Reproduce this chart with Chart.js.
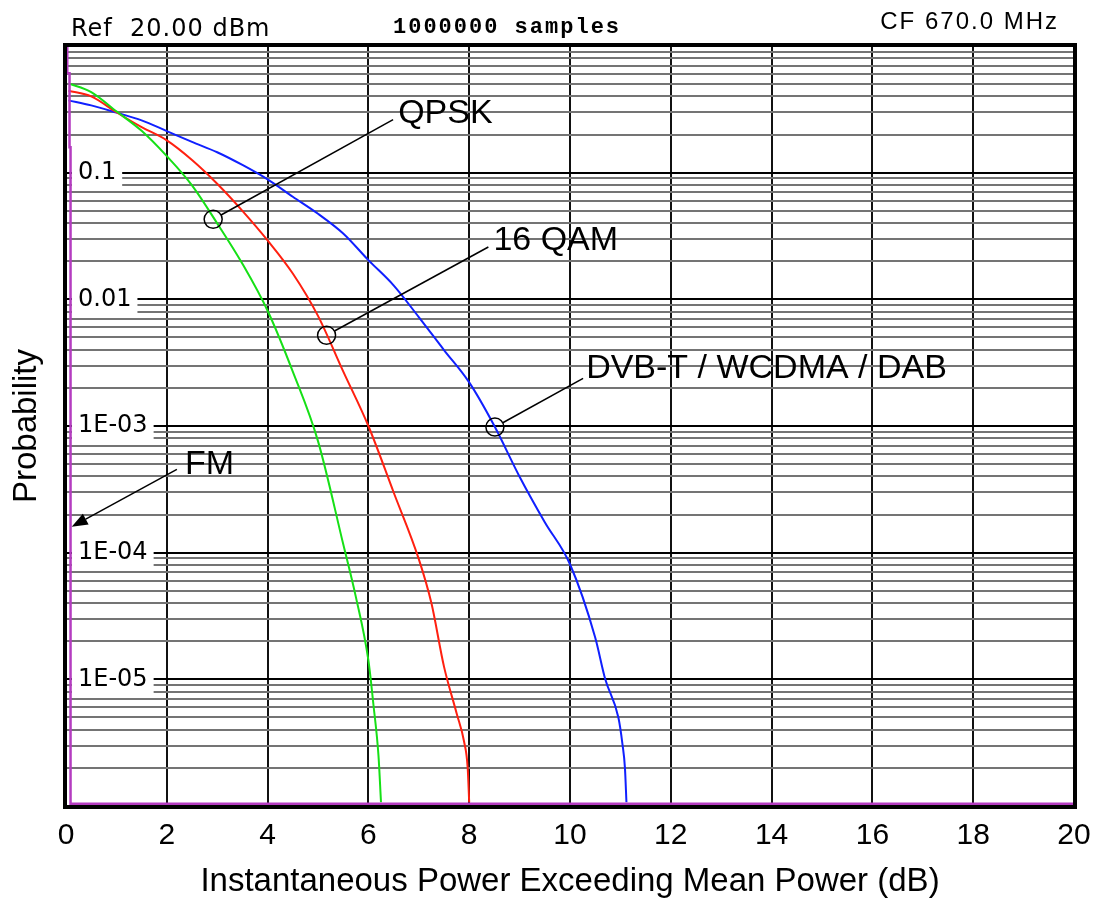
<!DOCTYPE html>
<html lang="en">
  <head>
    <meta charset="UTF-8" />
    <meta name="viewport" content="width=device-width, initial-scale=1.0" />
    <title>CCDF</title>
    <script src="https://cdn.jsdelivr.net/npm/chart.js"></script>
    <style>
      body { margin: 0; background: #fff; }
    </style>
  </head>
  <body>
    <div style="width: 1097px; height: 902px; position: relative">
      <canvas id="myChart"></canvas>
    </div>
    <script>
      // CCDF traces: power above mean (dB) -> probability
      const qpskDb = [0.05, 0.5, 1.0, 1.5, 2.0, 2.5, 3.0, 3.5, 4.0, 4.5, 5.0, 5.5, 5.75, 6.0, 6.1, 6.2, 6.25];
      const qpskProb = [0.507, 0.433, 0.305, 0.214, 0.135, 0.0794, 0.0398, 0.0191, 0.00813, 0.00269, 7.6e-4, 1.17e-4, 4.5e-5, 1.41e-5, 6.3e-6, 2.5e-6, 1.07e-6];

      const qamDb = [0.05, 0.5, 1.0, 1.5, 2.0, 2.5, 3.0, 3.5, 4.0, 4.5, 5.0, 5.5, 6.0, 6.5, 7.0, 7.25, 7.5, 7.75, 7.9, 7.97, 8.0];
      const qamProb = [0.444, 0.40, 0.30, 0.229, 0.18, 0.126, 0.0818, 0.050, 0.0292, 0.016, 0.0074, 0.0027, 0.001, 3.0e-4, 8.9e-5, 4.0e-5, 1.26e-5, 5.4e-6, 3.2e-6, 2.0e-6, 1.07e-6];

      const dvbDb = [0.05, 0.5, 1.0, 1.5, 2.0, 2.5, 3.0, 3.5, 4.0, 4.5, 5.0, 5.5, 6.0, 6.5, 7.0, 7.5, 8.0, 8.5, 9.0, 9.5, 10.0, 10.5, 10.7, 10.96, 11.04, 11.09, 11.12];
      const dvbProb = [0.372, 0.34, 0.298, 0.259, 0.213, 0.175, 0.145, 0.115, 0.0885, 0.0646, 0.0474, 0.0331, 0.0204, 0.0129, 0.00724, 0.00398, 0.00221, 0.001, 3.98e-4, 1.74e-4, 8.1e-5, 2.14e-5, 1.0e-5, 5.0e-6, 3.1e-6, 2.0e-6, 1.07e-6];

      // FM is constant envelope: drops straight down at 0 dB, then sits on the floor
      const fmDb = [0.025, 0.025, 0.07, 0.07, 0.09, 0.09, 20];
      const fmProb = [1.0, 0.61, 0.61, 0.159, 0.159, 1.04e-6, 1.04e-6];

      // axis ticks
      const xTicks = [0, 2, 4, 6, 8, 10, 12, 14, 16, 18, 20];
      const yLabelValues = [0.1, 0.01, 1e-3, 1e-4, 1e-5];
      const yLabels = ["0.1", "0.01", "1E-03", "1E-04", "1E-05"];

      // callouts: circle on a trace (x, y), leader end (lx, ly), text anchor (tx, ty)
      const callouts = [
        { text: "QPSK", x: 2.92, y: 0.0428, lx: 6.49, ly: 0.262, tx: 6.59, ty: 0.245 },
        { text: "16 QAM", x: 5.17, y: 0.0052, lx: 8.38, ly: 0.0259, tx: 8.48, ty: 0.0244 },
        { text: "DVB-T / WCDMA / DAB", x: 8.51, y: 9.8e-4, lx: 10.26, ly: 0.00238, tx: 10.32, ty: 0.00239 },
      ];
      const fmArrow = { text: "FM", fromX: 2.2, fromY: 4.55e-4, toX: 0.113, toY: 1.6e-4, tx: 2.36, ty: 4.21e-4 };

      const SANS = "'Liberation Sans', Arial, sans-serif";

      function toPoints(xs, ys) {
        return xs.map((x, i) => ({ x: x, y: ys[i] }));
      }

      // log grid: 1..9 per decade
      const gridValues = [];
      for (let e = -6; e < 0; e++) {
        for (let m = 1; m <= 9; m++) gridValues.push(m * Math.pow(10, e));
      }
      gridValues.push(1);

      function isDecade(v) {
        const l = Math.log10(v);
        return Math.abs(l - Math.round(l)) < 1e-6;
      }
      function labelFor(v) {
        const i = yLabelValues.findIndex((d) => Math.abs(Math.log10(d) - Math.log10(v)) < 1e-6);
        return i >= 0 ? yLabels[i] : "";
      }

      const calloutPlugin = {
        id: "callouts",
        afterDatasetsDraw(chart) {
          const ctx = chart.ctx;
          const xs = chart.scales.x;
          const ys = chart.scales.y;
          const r = 9;
          ctx.save();
          ctx.strokeStyle = "#000";
          ctx.fillStyle = "#000";
          ctx.lineWidth = 1.5;
          ctx.font = "34px " + SANS;
          ctx.textBaseline = "alphabetic";
          ctx.textAlign = "left";
          callouts.forEach((c) => {
            const cx = xs.getPixelForValue(c.x);
            const cy = ys.getPixelForValue(c.y);
            const lx = xs.getPixelForValue(c.lx);
            const ly = ys.getPixelForValue(c.ly);
            const a = Math.atan2(ly - cy, lx - cx);
            ctx.beginPath();
            ctx.arc(cx, cy, r, 0, Math.PI * 2);
            ctx.stroke();
            ctx.beginPath();
            ctx.moveTo(cx + r * Math.cos(a), cy + r * Math.sin(a));
            ctx.lineTo(lx, ly);
            ctx.stroke();
            ctx.fillText(c.text, xs.getPixelForValue(c.tx), ys.getPixelForValue(c.ty));
          });

          // FM arrow
          const fx = xs.getPixelForValue(fmArrow.fromX);
          const fy = ys.getPixelForValue(fmArrow.fromY);
          const px = xs.getPixelForValue(fmArrow.toX);
          const py = ys.getPixelForValue(fmArrow.toY);
          const a = Math.atan2(py - fy, px - fx);
          const hl = 16, hw = 6;
          const bx = px - hl * Math.cos(a), by = py - hl * Math.sin(a);
          ctx.beginPath();
          ctx.moveTo(fx, fy);
          ctx.lineTo(bx, by);
          ctx.stroke();
          ctx.beginPath();
          ctx.moveTo(px, py);
          ctx.lineTo(bx + hw * Math.sin(a), by - hw * Math.cos(a));
          ctx.lineTo(bx - hw * Math.sin(a), by + hw * Math.cos(a));
          ctx.closePath();
          ctx.fill();
          ctx.fillText(fmArrow.text, xs.getPixelForValue(fmArrow.tx), ys.getPixelForValue(fmArrow.ty));

          // heavy frame round the plot
          const area = chart.chartArea;
          ctx.lineWidth = 4;
          ctx.strokeRect(area.left - 1, area.top - 1, area.right - area.left + 2, area.bottom - area.top + 2);
          ctx.restore();
        },
      };

      const headerPlugin = {
        id: "header",
        afterDraw(chart) {
          const ctx = chart.ctx;
          ctx.save();
          ctx.fillStyle = "#000";
          ctx.textBaseline = "alphabetic";
          ctx.textAlign = "left";
          ctx.font = "24px 'DejaVu Sans', sans-serif";
          ctx.letterSpacing = "1px";
          ctx.fillText("Ref  20.00 dBm", 71, 36);
          ctx.font = "bold 22px 'Liberation Mono', 'Courier New', monospace";
          ctx.letterSpacing = "2px";
          ctx.fillText("1000000 samples", 393, 33);
          ctx.font = "24px " + SANS;
          ctx.letterSpacing = "2px";
          ctx.textAlign = "right";
          ctx.fillText("CF 670.0 MHz", 1059, 29);
          ctx.restore();
        },
      };

      function drawChart(tag) {
        const ctx = document.getElementById(tag);
        const line = (pts, color, width) => ({
          data: pts,
          borderColor: color,
          borderWidth: width,
          pointRadius: 0,
          fill: false,
          cubicInterpolationMode: "monotone",
        });
        const fm = line(toPoints(fmDb, fmProb), "#b43cc0", 2.5);
        fm.cubicInterpolationMode = "default";
        fm.tension = 0;
        new Chart(ctx, {
          type: "line",
          data: {
            datasets: [
              fm,
              line(toPoints(qpskDb, qpskProb), "#16e016", 2),
              line(toPoints(qamDb, qamProb), "#ff2010", 2),
              line(toPoints(dvbDb, dvbProb), "#1020ff", 2),
            ],
          },
          options: {
            responsive: true,
            maintainAspectRatio: false,
            animation: false,
            layout: { padding: { top: 46, right: 23, left: 0, bottom: 0 } },
            plugins: { legend: { display: false }, tooltip: { enabled: false } },
            scales: {
              x: {
                type: "linear",
                min: 0,
                max: 20,
                afterFit: (s) => {
                  s.height = 96;
                  s.paddingLeft = 0;
                  s.paddingRight = 0;
                },
                afterBuildTicks: (s) => { s.ticks = xTicks.map((v) => ({ value: v })); },
                border: { display: false },
                grid: { color: "#111", lineWidth: 2, drawTicks: false },
                ticks: {
                  color: "#000",
                  padding: 12,
                  font: { family: SANS, size: 30 },
                  maxRotation: 0,
                  autoSkip: false,
                  callback: (v) => String(v),
                },
                title: {
                  display: true,
                  text: "Instantaneous Power Exceeding Mean Power (dB)",
                  color: "#000",
                  font: { family: SANS, size: 33 },
                  padding: { top: 0, bottom: 0 },
                },
              },
              y: {
                type: "logarithmic",
                min: 1e-6,
                max: 1,
                afterFit: (s) => { s.width = 66; },
                afterBuildTicks: (s) => { s.ticks = gridValues.map((v) => ({ value: v })); },
                border: { display: false },
                grid: {
                  color: (c) => (isDecade(c.tick.value) ? "#000" : "#747474"),
                  lineWidth: 2,
                  drawTicks: false,
                },
                ticks: {
                  mirror: true,
                  padding: 12,
                  autoSkip: false,
                  color: "#000",
                  font: { family: "'DejaVu Sans', sans-serif", size: 24 },
                  callback: (v) => labelFor(v),
                  showLabelBackdrop: (c) => labelFor(c.tick.value) !== "",
                  backdropColor: "#fff",
                  backdropPadding: { left: 6, right: 6, top: 1, bottom: 1 },
                },
                title: {
                  display: true,
                  text: "Probability",
                  color: "#000",
                  font: { family: SANS, size: 33 },
                  padding: { top: 7, bottom: 0 },
                },
              },
            },
          },
          plugins: [calloutPlugin, headerPlugin],
        });
      }

      drawChart("myChart");
    </script>
  </body>
</html>
